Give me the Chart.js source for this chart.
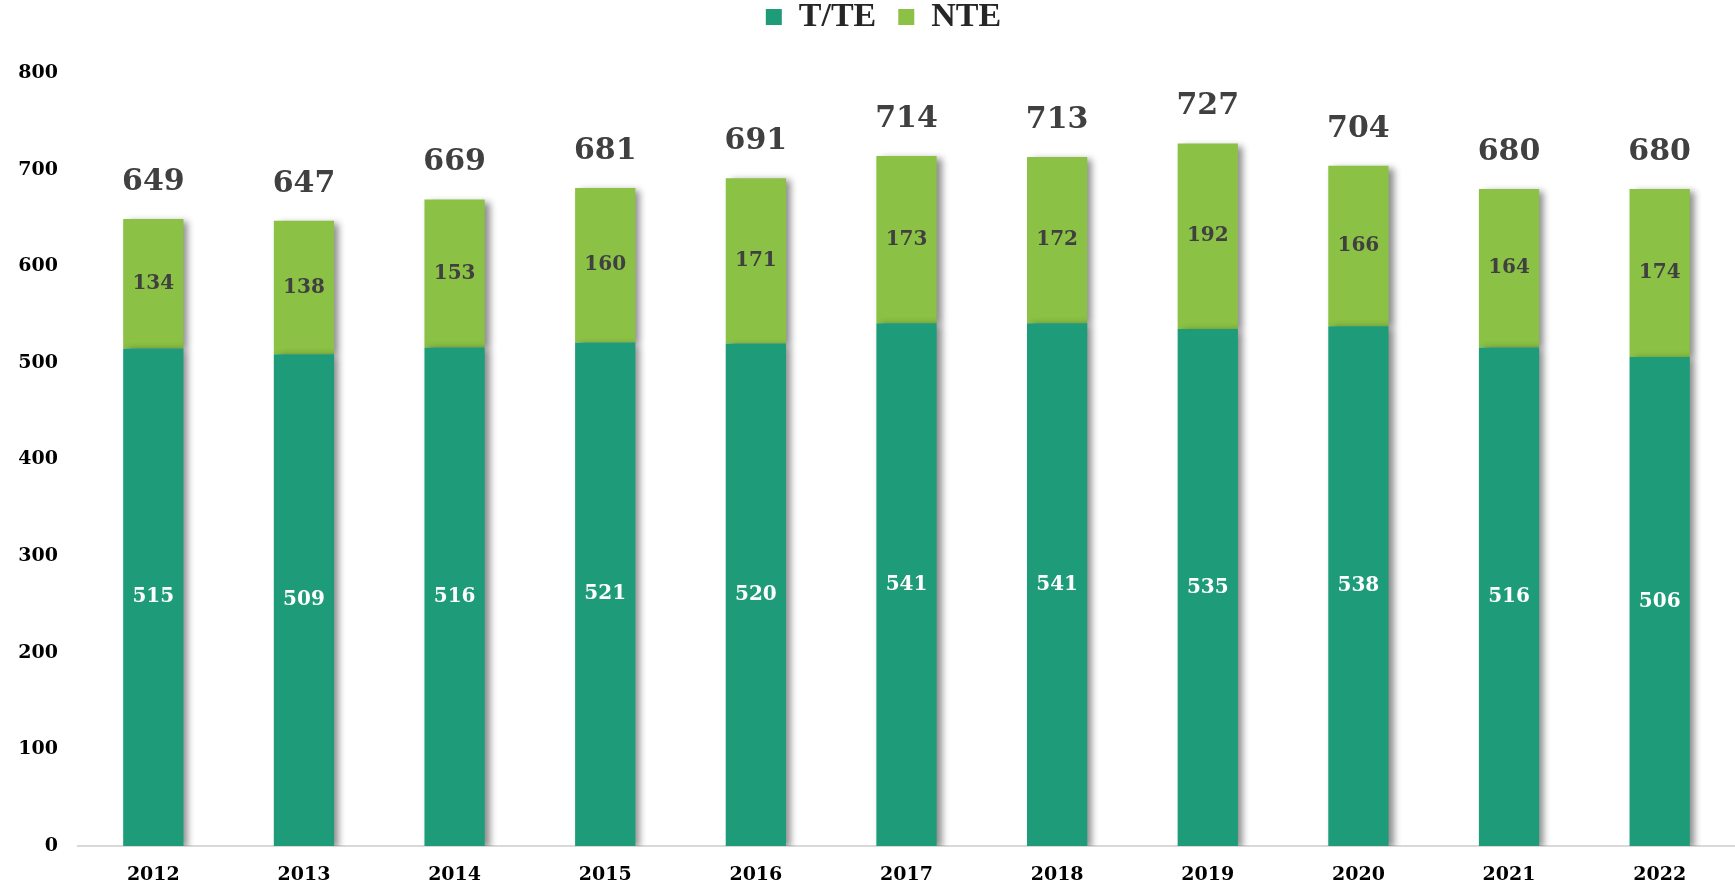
<!DOCTYPE html>
<html>
<head>
<meta charset="utf-8">
<script src="https://cdn.jsdelivr.net/npm/chart.js@4/dist/chart.umd.min.js"></script>
<style>
  html, body { margin: 0; padding: 0; background: #fff; }
  #grafico { display: block; }
</style>
</head>
<body>
<canvas id="grafico" width="1735" height="890"></canvas>
<script>
// Datos
const anios = ['2012', '2013', '2014', '2015', '2016', '2017', '2018', '2019', '2020', '2021', '2022'];
const valoresTTE = [515, 509, 516, 521, 520, 541, 541, 535, 538, 516, 506];
const valoresNTE = [134, 138, 153, 160, 171, 173, 172, 192, 166, 164, 174];
const ticksY = [0, 100, 200, 300, 400, 500, 600, 700, 800];

const colorTTE = '#1e9b79';
const colorNTE = '#8bc144';
const fuente = "'Liberation Serif', 'DejaVu Serif', serif";
const fuenteNum = "'DejaVu Serif', serif";

// Leyenda: altura fija y dibujada un poco más arriba y a la derecha
const ajusteLeyenda = {
    id: 'ajusteLeyenda',
    beforeInit(chart) {
        const leyenda = chart.legend;
        const fitOriginal = leyenda.fit;
        const drawOriginal = leyenda.draw;
        leyenda.fit = function() {
            fitOriginal.call(this);
            this.height = 73;
        };
        leyenda.draw = function() {
            this.ctx.save();
            this.ctx.translate(12, -22);
            drawOriginal.call(this);
            this.ctx.restore();
        };
    }
};

// Sombra a la derecha de las barras
const sombraBarras = {
    id: 'sombraBarras',
    beforeDatasetsDraw(chart) {
        const ctx = chart.ctx;
        ctx.save();
        ctx.shadowColor = 'rgba(0, 0, 0, 0.45)';
        ctx.shadowBlur = 7;
        ctx.shadowOffsetX = 5;
        ctx.shadowOffsetY = 2;
    },
    afterDatasetsDraw(chart) {
        chart.ctx.restore();
    }
};

// Etiquetas de valores dentro de las barras y totales arriba
const etiquetas = {
    id: 'etiquetas',
    afterDatasetsDraw(chart) {
        const ctx = chart.ctx;
        ctx.save();
        ctx.textAlign = 'center';
        ctx.textBaseline = 'middle';

        const barrasTTE = chart.getDatasetMeta(0).data;
        const barrasNTE = chart.getDatasetMeta(1).data;

        ctx.font = "bold 20px " + fuenteNum;
        barrasTTE.forEach((bar, i) => {
            ctx.fillStyle = '#ffffff';
            ctx.fillText(valoresTTE[i], bar.x, (bar.y + bar.base) / 2);
        });
        barrasNTE.forEach((bar, i) => {
            ctx.fillStyle = '#404040';
            ctx.fillText(valoresNTE[i], bar.x, (bar.y + bar.base) / 2);
        });

        ctx.font = "bold 30px " + fuenteNum;
        barrasNTE.forEach((bar, i) => {
            ctx.fillStyle = '#404040';
            ctx.fillText(valoresTTE[i] + valoresNTE[i], bar.x, bar.y - 37);
        });
        ctx.restore();
    }
};

new Chart(document.getElementById('grafico'), {
    type: 'bar',
    data: {
        labels: anios,
        datasets: [
            {
                label: 'T/TE',
                data: valoresTTE,
                backgroundColor: colorTTE,
                barPercentage: 0.4,
                categoryPercentage: 1
            },
            {
                label: 'NTE',
                data: valoresNTE,
                backgroundColor: colorNTE,
                barPercentage: 0.4,
                categoryPercentage: 1
            }
        ]
    },
    options: {
        responsive: false,
        animation: false,
        layout: { padding: { left: 8, right: 0, top: 0, bottom: 0 } },
        plugins: {
            legend: {
                position: 'top',
                labels: {
                    boxWidth: 16,
                    boxHeight: 16,
                    padding: 22,
                    color: '#262626',
                    font: { family: fuente, size: 34, weight: 'bold' }
                }
            },
            tooltip: { enabled: false }
        },
        scales: {
            x: {
                stacked: true,
                afterFit(scale) {
                    scale.height = 44;
                },
                grid: { display: false, drawTicks: false },
                border: { display: true, color: '#d9d9d9', width: 2 },
                ticks: {
                    padding: 18,
                    color: '#000000',
                    font: { family: fuenteNum, size: 19, weight: 'bold' }
                }
            },
            y: {
                stacked: true,
                min: 0,
                max: 800,
                afterBuildTicks(scale) {
                    scale.ticks = ticksY.map(v => ({ value: v }));
                },
                afterFit(scale) {
                    scale.width = 70;
                },
                grid: { display: false, drawTicks: false },
                border: { display: false },
                ticks: {
                    padding: 20,
                    color: '#000000',
                    font: { family: fuenteNum, size: 19, weight: 'bold' }
                }
            }
        }
    },
    plugins: [ajusteLeyenda, sombraBarras, etiquetas]
});
</script>
</body>
</html>
